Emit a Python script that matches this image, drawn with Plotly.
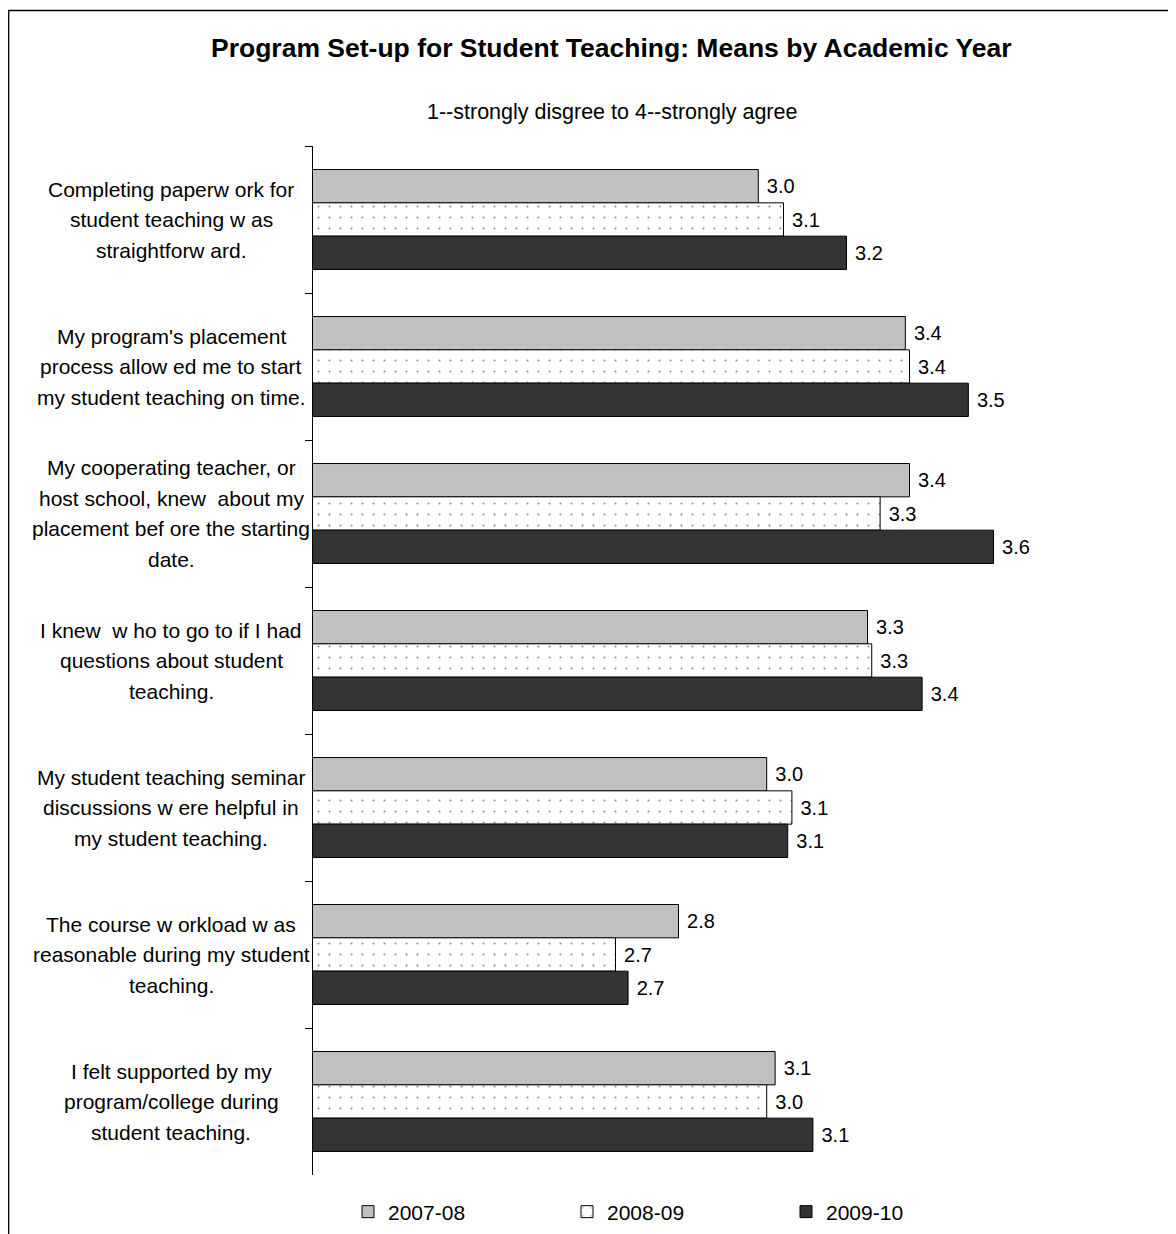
import plotly.graph_objects as go

# ---- data ----
question_lines = [
    ["Completing paperw ork for", "student teaching w as", "straightforw ard."],
    ["My program's placement", "process allow ed me to start", "my student teaching on time."],
    ["My cooperating teacher, or", "host school, knew  about my", "placement bef ore the starting", "date."],
    ["I knew  w ho to go to if I had", "questions about student", "teaching."],
    ["My student teaching seminar", "discussions w ere helpful in", "my student teaching."],
    ["The course w orkload w as", "reasonable during my student", "teaching."],
    ["I felt supported by my", "program/college during", "student teaching."],
]
categories = ["<br>".join(lines) for lines in question_lines]

years = ["2007-08", "2008-09", "2009-10"]
means_2007_08 = [3.02, 3.37, 3.38, 3.28, 3.04, 2.83, 3.06]
means_2008_09 = [3.08, 3.38, 3.31, 3.29, 3.10, 2.68, 3.04]
means_2009_10 = [3.23, 3.52, 3.58, 3.41, 3.09, 2.71, 3.15]

title_text = "Program Set-up for Student Teaching: Means by Academic Year"
subtitle_text = "1--strongly disgree to 4--strongly agree"

# ---- style ----
FONT = "Liberation Sans, Arial, sans-serif"
OFF = 8  # page body margin of the html
W, H = 1176 - OFF, 1234 - OFF
# plot area in screen pixels: x 313..1170, y 146..1175
ML, MR, MT, MB = 313 - OFF, 6, 146 - OFF, 1234 - 1175
PW, PH = W - ML - MR, H - MT - MB

def px_to_paper_x(px):
    return (px - OFF - ML) / PW

def px_to_paper_y(py):
    return (H - MB - (py - OFF)) / PH

fig = go.Figure()
series = [
    (years[0], means_2007_08, dict(color="#C0C0C0", line=dict(color="#000000", width=1))),
    (years[1], means_2008_09, dict(color="#FFFFFF", line=dict(color="#000000", width=1),
                                    pattern=dict(shape=".", fgcolor="#222222", bgcolor="#FFFFFF",
                                                 size=11, solidity=0.03))),
    (years[2], means_2009_10, dict(color="#333333", line=dict(color="#000000", width=1))),
]
for name, vals, marker in series:
    fig.add_trace(go.Bar(
        name=name, y=categories, x=vals, orientation="h", marker=marker,
        texttemplate=" %{x:.1f}", textposition="outside", cliponaxis=False,
        textfont=dict(family=FONT, size=20, color="#000000"),
    ))

annotations = [
    dict(text="<b>" + title_text + "</b>", xref="paper", yref="paper",
         x=px_to_paper_x(611), y=px_to_paper_y(48), xanchor="center", yanchor="middle",
         showarrow=False, font=dict(family=FONT, size=26.5, color="#000000")),
    dict(text=subtitle_text, xref="paper", yref="paper",
         x=px_to_paper_x(612), y=px_to_paper_y(112), xanchor="center", yanchor="middle",
         showarrow=False, font=dict(family=FONT, size=21.5, color="#000000")),
]
LINE_SP = 30.5
for cat, lines in zip(categories, question_lines):
    n = len(lines)
    for i, ln in enumerate(lines):
        annotations.append(dict(
            text=ln, xref="paper", yref="y", x=px_to_paper_x(171), y=cat,
            xanchor="center", yanchor="middle", yshift=-(i - (n - 1) / 2) * LINE_SP,
            showarrow=False, font=dict(family=FONT, size=21, color="#000000")))

fig.update_layout(
    width=W, height=H,
    margin=dict(l=ML, r=MR, t=MT, b=MB, autoexpand=False),
    paper_bgcolor="#FFFFFF", plot_bgcolor="#FFFFFF",
    barmode="group", bargap=0.32, bargroupgap=0,
    font=dict(family=FONT, size=21, color="#000000"),
    showlegend=True,
    legend=dict(orientation="h", x=px_to_paper_x(348), xanchor="left",
                y=px_to_paper_y(1212), yanchor="middle",
                font=dict(family=FONT, size=21, color="#000000"),
                entrywidth=174, traceorder="normal"),
    annotations=annotations,
    shapes=[dict(type="rect", xref="paper", yref="paper",
                 x0=px_to_paper_x(8.7), x1=px_to_paper_x(1200),
                 y0=px_to_paper_y(1260), y1=px_to_paper_y(10.5),
                 line=dict(color="#000000", width=1.3), fillcolor="rgba(0,0,0,0)", layer="below")],
)
fig.update_xaxes(range=[1.96, 4.0], visible=False, showgrid=False, zeroline=False)
fig.update_yaxes(autorange="reversed", showticklabels=False, showline=True, linecolor="#000000",
                 linewidth=1, ticks="outside", ticklen=7, tickcolor="#000000", tickwidth=1,
                 tickson="boundaries", showgrid=False, zeroline=False)

fig.write_html("out.html")
